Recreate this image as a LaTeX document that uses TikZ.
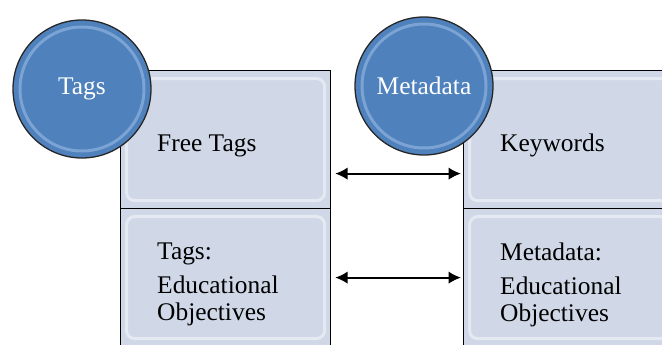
\documentclass[tikz,border=0pt]{standalone}
\usepackage{fontspec}
\setmainfont{Liberation Serif}
\usetikzlibrary{arrows.meta}

\newlength{\du}
\setlength{\du}{0.85\unitlength}

\tikzset{
  panel/.style={rectangle, draw=black, line width=1.2\du, fill=panelfill,
    anchor=north west, minimum height=138\du,
    path picture={\draw[white, opacity=.45, line width=3\du, rounded corners=8\du]
      ([shift={(6\du,-8\du)}]path picture bounding box.north west) rectangle
      ([shift={(-6\du,8\du)}]path picture bounding box.south east);}},
  paneltext/.style={anchor=west, align=left, inner sep=0pt,
    font=\fontsize{21.6}{23}\selectfont},
  ball/.style={circle, draw=black!85, line width=1.3\du, minimum size=138\du,
    inner sep=0pt, fill=ballblue, text=white, font=\fontsize{21.6}{23}\selectfont,
    path picture={\draw[ballrim, opacity=.6, line width=3\du]
      (path picture bounding box.center) circle (62\du);}},
  link/.style={{Latex[length=10.5pt,width=10.5pt]}-{Latex[length=10.5pt,width=10.5pt]},
    line width=2\du, shorten <=4\du, shorten >=2\du}
}

\begin{document}
\begin{tikzpicture}
\definecolor{panelfill}{rgb}{0.816, 0.847, 0.910}
\definecolor{ballblue}{rgb}{0.310, 0.506, 0.741}
\definecolor{ballrim}{rgb}{0.600, 0.730, 0.890}
\useasboundingbox (0,0) rectangle (662\du,-344\du);
\clip (0,0) rectangle (662\du,-344\du);

% left column
\node[panel, minimum width=210\du] (freetags) at (120\du,-70\du) {};
\node[panel, minimum width=210\du] (tagsobj) at (120\du,-208\du) {};
\node[paneltext] (freetagstext) at ([xshift=37\du,yshift=-6\du]freetags.west) {Free Tags};
\node[paneltext] (tagsobjtext) at ([xshift=37\du,yshift=-7\du]tagsobj.west) {Tags:\\[6pt]Educational\\Objectives};

% right column
\node[panel, minimum width=264\du] (keywords) at (463\du,-70\du) {};
\node[panel, minimum width=264\du] (metaobj) at (463\du,-208\du) {};
\node[paneltext] (keywordstext) at ([xshift=37\du,yshift=-6\du]keywords.west) {Keywords};
\node[paneltext] (metaobjtext) at ([xshift=37\du,yshift=-7\du]metaobj.west) {Metadata:\\[6pt]Educational\\Objectives};

% links
\draw[link] ([yshift=-28.9pt]freetags.east) -- ([yshift=-28.9pt]keywords.west);
\draw[link] (tagsobj.east) -- (metaobj.west);

% circles
\node[ball] (tags) at (82\du,-89\du) {Tags};
\node[ball] (metadata) at (424\du,-86\du) {Metadata};
\end{tikzpicture}
\end{document}
